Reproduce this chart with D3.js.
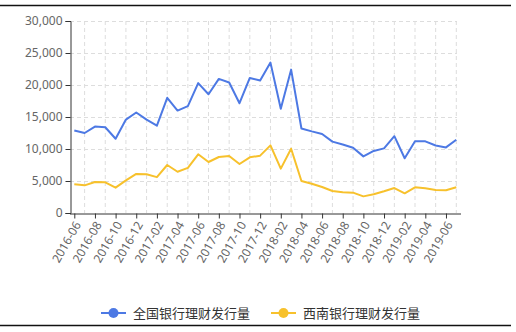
<!DOCTYPE html>
<html><head><meta charset="utf-8">
<script src="https://cdn.jsdelivr.net/npm/d3@7/dist/d3.min.js"></script>
<style>body{margin:0;background:#fff}svg{display:block}</style>
</head><body>
<svg id="c" width="516" height="332"></svg>
<script>
const months = ["2016-06","2016-07","2016-08","2016-09","2016-10","2016-11","2016-12",
"2017-01","2017-02","2017-03","2017-04","2017-05","2017-06","2017-07","2017-08","2017-09","2017-10","2017-11","2017-12",
"2018-01","2018-02","2018-03","2018-04","2018-05","2018-06","2018-07","2018-08","2018-09","2018-10","2018-11","2018-12",
"2019-01","2019-02","2019-03","2019-04","2019-05","2019-06","2019-07"];
const national = [12900,12500,13500,13400,11600,14600,15700,14600,13650,18000,16000,16700,20300,
18550,20950,20400,17150,21100,20700,23500,16300,22400,13200,12750,12350,11150,10700,10200,8850,9700,10100,
12000,8550,11200,11200,10550,10250,11450];
const southwest = [4480,4320,4840,4800,3960,5100,6100,6050,5600,7500,6450,7050,9170,
7970,8750,8900,7660,8700,8960,10570,6930,10050,5000,4580,4060,3440,3230,3180,2600,2920,3390,
3900,3070,4010,3850,3590,3550,4010];
const yTicks = [0,5000,10000,15000,20000,25000,30000];
const seriesNames = ["全国银行理财发行量","西南银行理财发行量"];
const colors = ["#4d79e4","#f7c12c"];

const svg = d3.select("#c");
const x = d3.scalePoint().domain(months).range([74.3, 456.3]);
const y = d3.scaleLinear().domain([0,30000]).range([213, 21]);
const font = "'Noto Sans', 'Noto Sans CJK SC', sans-serif";

// frame lines
svg.append("line").attr("x1",0).attr("x2",511).attr("y1",5.5).attr("y2",5.5).attr("stroke","#111").attr("stroke-width",1.5);
svg.append("line").attr("x1",0).attr("x2",511).attr("y1",325.5).attr("y2",325.5).attr("stroke","#111").attr("stroke-width",1.5);

// grid
const g = svg.append("g");
g.selectAll(".hg").data(yTicks.filter(d=>d>0)).join("line")
  .attr("x1",70).attr("x2",457).attr("y1",d=>Math.round(y(d))+0.5).attr("y2",d=>Math.round(y(d))+0.5)
  .attr("stroke","#ddd").attr("stroke-dasharray","4,3");
g.selectAll(".vg").data(months.filter((d,i)=>i%2===1)).join("line")
  .attr("x1",d=>x(d)).attr("x2",d=>x(d)).attr("y1",21).attr("y2",213)
  .attr("stroke","#ddd").attr("stroke-dasharray","4,3");

// y axis
const ya = svg.append("g").attr("transform","translate(70.5,0)")
  .call(d3.axisLeft(y).tickValues(yTicks).tickSize(5).tickPadding(3).tickFormat(d3.format(",")));
ya.select(".domain").attr("stroke","#333");
ya.selectAll(".tick line").attr("stroke","#333");
ya.selectAll("text").attr("fill","#666").style("font-family",font).style("font-size","12px");

// x axis
const xa = svg.append("g").attr("transform","translate(0,213.5)")
  .call(d3.axisBottom(x).tickValues(months.filter((d,i)=>i%2===0)).tickSize(5).tickSizeOuter(0));
xa.select(".domain").attr("d","M70,0.5H461").attr("stroke","#333");
xa.selectAll(".tick line").attr("stroke","#333");
xa.selectAll("text").attr("fill","#666").style("font-family",font).style("font-size","12px")
  .attr("text-anchor","end").attr("dy","0.35em")
  .attr("transform","translate(3,9) rotate(-60)").attr("x",0).attr("y",0);

// lines
const data = [national, southwest];
data.forEach((vals,k)=>{
  svg.append("path").datum(vals)
    .attr("d", d3.line().x((d,i)=>x(months[i])).y(d=>y(d)))
    .attr("fill","none").attr("stroke",colors[k]).attr("stroke-width",2).attr("stroke-linejoin","round");
});

// legend
const legX = [101, 271];
seriesNames.forEach((n,k)=>{
  const lg = svg.append("g").attr("transform",`translate(${legX[k]},313)`);
  lg.append("line").attr("x1",0).attr("x2",25).attr("y1",0).attr("y2",0).attr("stroke",colors[k]).attr("stroke-width",2);
  lg.append("circle").attr("cx",12.5).attr("cy",0).attr("r",5).attr("fill",colors[k]);
  lg.append("text").attr("x",32).attr("y",0).attr("dy","0.35em").text(n)
    .attr("fill","#333").style("font-family","'Noto Sans CJK SC', sans-serif").style("font-size","13px");
});
</script>
</body></html>
